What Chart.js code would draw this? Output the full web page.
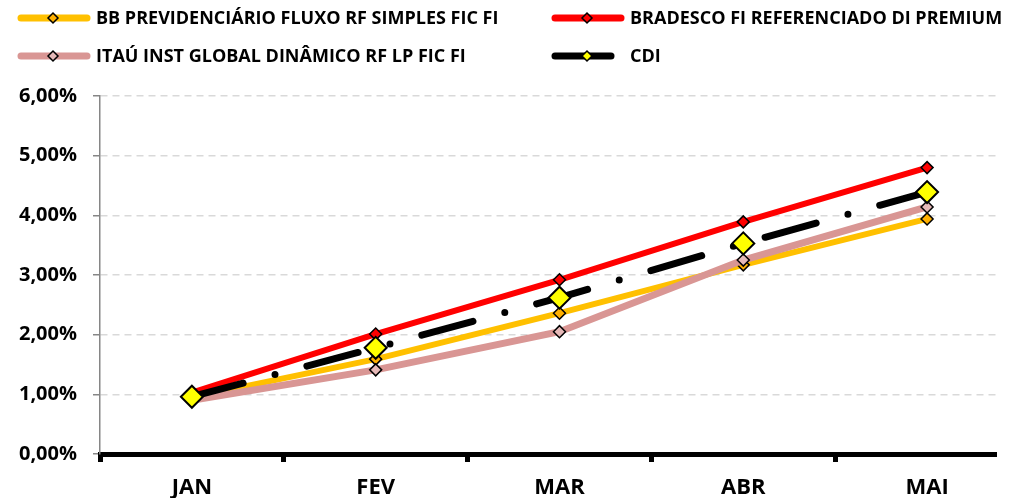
<!DOCTYPE html>
<html>
<head>
<meta charset="utf-8">
<script src="https://cdn.jsdelivr.net/npm/chart.js@4/dist/chart.umd.min.js"></script>
<style>
  html, body { margin: 0; padding: 0; background: #fff; overflow: hidden; }
  #wrap { width: 1009px; height: 498px; position: relative; }
</style>
</head>
<body>
<div id="wrap"><canvas id="chart"></canvas></div>
<script>
const meses = ['JAN', 'FEV', 'MAR', 'ABR', 'MAI'];
const bbPrev = [0.95, 1.59, 2.36, 3.17, 3.94];
const bradesco = [1.03, 2.01, 2.92, 3.89, 4.80];
const itau = [0.90, 1.41, 2.05, 3.25, 4.14];
const cdi = [0.96, 1.78, 2.62, 3.53, 4.39];
const yTicks = [0, 1, 2, 3, 4, 5, 6];

const fonte = '"Open Sans"';

// o original é cortado à direita, antes do fim do último mês
const xMin = -0.5;
const xMax = 4.375;

// pontos {x, y} para o eixo x linear (índice do mês)
const pontos = serie => serie.map((v, i) => ({ x: i, y: v }));

// marcas do eixo x: meio-passos (divisões) e inteiros (rótulos)
const xMarcas = [];
for (let i = xMin; i <= xMax; i += 0.5) xMarcas.push(i);
xMarcas.push(xMax);

// legenda desenhada à mão: linha grossa com losango no meio
const legendaPlugin = {
    id: 'legenda',
    afterDraw(chart) {
        const ctx = chart.ctx;
        const cols = [18, 552];
        const rows = [18, 56];
        chart.data.datasets.forEach((ds, i) => {
            const x = cols[i % 2];
            const y = rows[Math.floor(i / 2)];
            const len = i === 3 ? 62 : 72;
            ctx.save();
            ctx.strokeStyle = ds.borderColor;
            ctx.lineWidth = 7;
            ctx.lineCap = 'round';
            ctx.beginPath();
            ctx.moveTo(x + 3, y);
            ctx.lineTo(x + len - 3, y);
            ctx.stroke();
            const cx = x + 35;
            const r = 5;
            ctx.beginPath();
            ctx.moveTo(cx - r, y);
            ctx.lineTo(cx, y - r);
            ctx.lineTo(cx + r, y);
            ctx.lineTo(cx, y + r);
            ctx.closePath();
            ctx.fillStyle = ds.pointBackgroundColor;
            ctx.fill();
            ctx.lineWidth = 1.5;
            ctx.strokeStyle = '#000';
            ctx.lineCap = 'butt';
            ctx.stroke();
            ctx.fillStyle = '#000';
            ctx.font = 'bold 18px ' + fonte;
            ctx.textBaseline = 'middle';
            ctx.fillText(ds.label, x + 78, y + 1);
            ctx.restore();
        });
    }
};

new Chart(document.getElementById('chart'), {
    type: 'line',
    data: {
        datasets: [
            {
                label: 'BB PREVIDENCIÁRIO FLUXO RF SIMPLES FIC FI',
                data: pontos(bbPrev),
                borderColor: '#FFC000',
                borderWidth: 6,
                pointStyle: 'rectRot',
                pointRadius: 6,
                pointBackgroundColor: '#FFB000',
                pointBorderColor: '#000',
                pointBorderWidth: 1.5,
                order: 3
            },
            {
                label: 'BRADESCO FI REFERENCIADO DI PREMIUM',
                data: pontos(bradesco),
                borderColor: '#FF0000',
                borderWidth: 6,
                pointStyle: 'rectRot',
                pointRadius: 6,
                pointBackgroundColor: '#FF0000',
                pointBorderColor: '#000',
                pointBorderWidth: 1.5,
                order: 2
            },
            {
                label: 'ITAÚ INST GLOBAL DINÂMICO RF LP FIC FI',
                data: pontos(itau),
                borderColor: '#D99694',
                borderWidth: 7,
                pointStyle: 'rectRot',
                pointRadius: 6,
                pointBackgroundColor: '#E6B9B8',
                pointBorderColor: '#000',
                pointBorderWidth: 1.5,
                order: 1
            },
            {
                label: 'CDI',
                data: pontos(cdi),
                borderColor: '#000000',
                borderWidth: 7,
                borderDash: [53, 33, 0, 33],
                borderCapStyle: 'round',
                pointStyle: 'rectRot',
                pointRadius: 11,
                pointBackgroundColor: '#FFFF00',
                pointBorderColor: '#000',
                pointBorderWidth: 2,
                order: 0
            }
        ]
    },
    options: {
        responsive: true,
        maintainAspectRatio: false,
        animation: false,
        layout: { padding: { top: 96, left: 0, right: 0, bottom: 0 } },
        plugins: {
            legend: { display: false },
            tooltip: { enabled: false }
        },
        scales: {
            x: {
                type: 'linear',
                min: xMin,
                max: xMax,
                afterBuildTicks: s => { s.ticks = xMarcas.map(v => ({ value: v })); },
                grid: {
                    drawOnChartArea: false,
                    drawTicks: true,
                    tickLength: 8,
                    tickColor: c => (c.tick && Number.isInteger(c.tick.value + 0.5)) ? '#000' : 'rgba(0,0,0,0)',
                    tickWidth: 5
                },
                border: { color: '#000', width: 5 },
                ticks: {
                    color: '#000',
                    font: { family: fonte, size: 22, weight: 'bold' },
                    padding: 13,
                    maxRotation: 0,
                    autoSkip: false,
                    callback: v => Number.isInteger(v) ? meses[v] : ''
                },
                afterFit: s => { s.height = 44; }
            },
            y: {
                min: yTicks[0],
                max: yTicks[yTicks.length - 1],
                afterBuildTicks: s => { s.ticks = yTicks.map(v => ({ value: v })); },
                grid: {
                    color: '#D9D9D9',
                    lineWidth: 1.5,
                    tickLength: 7,
                    tickColor: '#868686',
                    tickWidth: 1.5
                },
                border: { color: '#868686', width: 1.5, dash: [7, 5] },
                ticks: {
                    color: '#000',
                    font: { family: fonte, size: 20, weight: 'bold' },
                    padding: 16,
                    callback: v => v.toFixed(2).replace('.', ',') + '%'
                },
                afterFit: s => { s.width = 100; }
            }
        }
    },
    plugins: [legendaPlugin]
});
</script>
</body>
</html>
